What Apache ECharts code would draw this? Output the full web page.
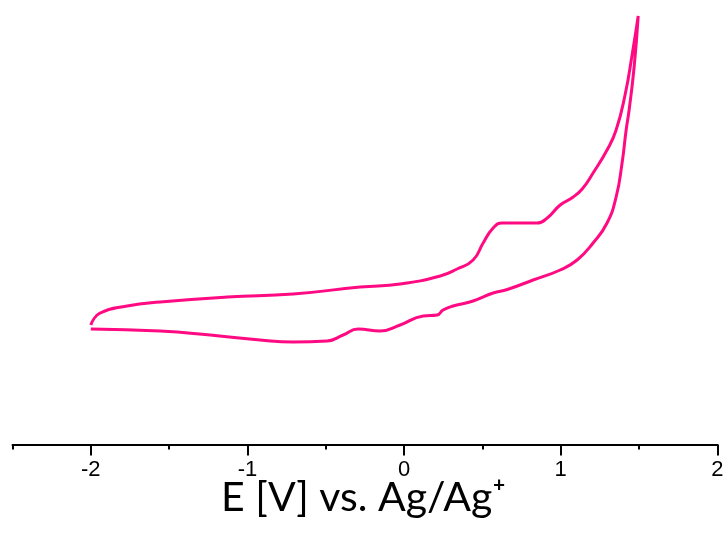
<!DOCTYPE html>
<html>
<head>
<meta charset="utf-8">
<script src="https://cdn.jsdelivr.net/npm/echarts@6/dist/echarts.min.js"></script>
<style>
  html, body { margin: 0; padding: 0; background: #fff; }
  #chart { width: 727px; height: 538px; }
</style>
</head>
<body>
<div id="chart"></div>
<script>
// Cyclic voltammogram: potential E (V vs. Ag/Ag+) and current (arbitrary units)
// Forward sweep, -2 V up to the switching potential
const forwardE = [-2.00, -1.94, -1.768, -1.557, -1.129, -0.708, -0.280, -0.025, 0.231, 0.339, 0.441, 0.505, 0.569, 0.626, 0.741, 0.850, 0.914, 0.997, 1.080, 1.140, 1.207, 1.296, 1.354, 1.411, 1.456, 1.495];
const forwardI = [11.95, 13.15, 13.85, 14.25, 14.75, 15.05, 15.75, 16.05, 16.85, 17.55, 18.45, 20.15, 21.65, 22.15, 22.15, 22.15, 22.65, 23.95, 24.75, 25.6, 27.15, 29.45, 31.45, 34.95, 38.95, 42.85];
// Reverse sweep, back to -2 V
const reverseE = [1.469, 1.437, 1.418, 1.392, 1.354, 1.296, 1.207, 1.105, 0.997, 0.824, 0.659, 0.569, 0.441, 0.313, 0.249, 0.211, 0.122, -0.025, -0.153, -0.293, -0.389, -0.491, -0.708, -0.919, -1.238, -1.557, -2.00];
const reverseI = [37.75, 33.45, 31.45, 28.15, 24.75, 22.15, 20.15, 18.45, 17.45, 16.45, 15.5, 15.15, 14.35, 13.85, 13.45, 12.95, 12.85, 11.95, 11.35, 11.55, 10.95, 10.35, 10.25, 10.45, 10.95, 11.35, 11.55];

const majorTicks = [-2, -1, 0, 1, 2];
const minorTicks = [-2.5, -1.5, -0.5, 0.5, 1.5];
const axisTitle = 'E [V] vs. Ag/Ag\u207A';

const cv = [];
forwardE.forEach((e, i) => cv.push([e, forwardI[i]]));
reverseE.forEach((e, i) => cv.push([e, reverseI[i]]));

const chart = echarts.init(document.getElementById('chart'), null, { renderer: 'canvas' });
chart.setOption({
  animation: false,
  backgroundColor: '#ffffff',
  grid: { left: 12.5, right: 9.7, top: 14.5, bottom: 93.5 },
  xAxis: [
    {
      type: 'value', min: -2.5, max: 2,
      axisLine: { show: true, lineStyle: { color: '#000', width: 2 } },
      axisTick: { show: true, customValues: minorTicks, length: 5, lineStyle: { color: '#000', width: 2 } },
      axisLabel: { show: true, customValues: majorTicks, margin: 14, color: '#000', fontSize: 22, fontFamily: 'Liberation Sans, Arial, sans-serif' },
      splitLine: { show: false }
    },
    {
      type: 'value', min: -2.5, max: 2, position: 'bottom', offset: 0,
      axisLine: { show: false },
      axisTick: { show: true, customValues: majorTicks, length: 11, lineStyle: { color: '#000', width: 2 } },
      axisLabel: { show: false },
      splitLine: { show: false }
    }
  ],
  yAxis: {
    type: 'value', min: 0, max: 43, show: false,
    splitLine: { show: false }
  },
  graphic: [{
    type: 'text',
    left: 'center',
    top: 477,
    style: { text: axisTitle, fill: '#000', font: '41px Lato, "Noto Sans", sans-serif' }
  }],
  series: [{
    type: 'line',
    xAxisIndex: 0,
    data: cv,
    smooth: 0.5,
    showSymbol: false,
    lineStyle: { color: '#ff0a82', width: 3 }
  }]
});
</script>
</body>
</html>
